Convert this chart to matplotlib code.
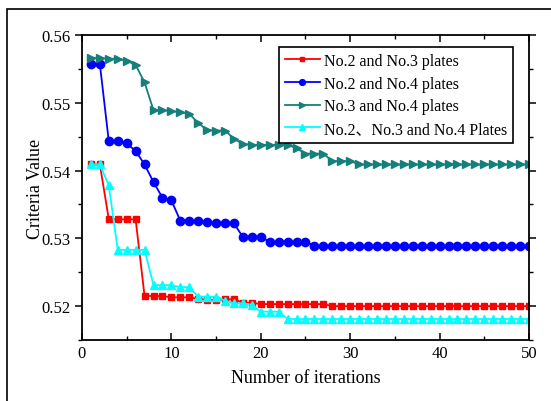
import numpy as np
import matplotlib
matplotlib.use('Agg')
import matplotlib.pyplot as plt
from matplotlib.patches import Rectangle
from matplotlib.ticker import MultipleLocator

plt.rcParams['font.family'] = ['Liberation Serif', 'Noto Sans CJK SC', 'DejaVu Sans']
plt.rcParams['mathtext.fontset'] = 'stix'

iterations = list(range(1, 51))

# No.2 and No.3 plates
red_vals = [0.5409, 0.5409, 0.5328, 0.5328, 0.5328, 0.5328, 0.5215, 0.5215, 0.5215, 0.5213,
            0.5213, 0.5213, 0.5211, 0.5209, 0.5209, 0.5210, 0.5210, 0.5205, 0.5205, 0.5203,
            0.5203, 0.5203, 0.5203, 0.5203, 0.5203, 0.5203, 0.5203] + [0.5200] * 23

# No.2 and No.4 plates
blue_vals = [0.5557, 0.5557, 0.5443, 0.5443, 0.5440, 0.5429, 0.5409, 0.5383, 0.5360, 0.5356,
             0.5326, 0.5326, 0.5325, 0.5324, 0.5322, 0.5322, 0.5322, 0.5302, 0.5302, 0.5302,
             0.5295, 0.5295, 0.5295, 0.5295, 0.5295] + [0.5289] * 25

# No.3 and No.4 plates
teal_vals = [0.5566, 0.5566, 0.5565, 0.5565, 0.5562, 0.5556, 0.5530, 0.5489, 0.5489, 0.5488,
             0.5486, 0.5484, 0.5470, 0.5460, 0.5459, 0.5459, 0.5447, 0.5439, 0.5438, 0.5438,
             0.5438, 0.5438, 0.5438, 0.5433, 0.5425, 0.5425, 0.5425, 0.5414, 0.5414, 0.5414] + [0.5409] * 20

# No.2, No.3 and No.4 plates
cyan_vals = [0.5409, 0.5409, 0.5378, 0.5283, 0.5283, 0.5283, 0.5283, 0.5231, 0.5231, 0.5231,
             0.5228, 0.5228, 0.5214, 0.5214, 0.5214, 0.5208, 0.5204, 0.5204, 0.5202, 0.5192,
             0.5192, 0.5192] + [0.5181] * 28

labels = ['No.2 and No.3 plates', 'No.2 and No.4 plates',
          'No.3 and No.4 plates', 'No.2\u3001No.3 and No.4 Plates']

fig = plt.figure(figsize=(5.51, 4.02), dpi=100)
ax = fig.add_axes([0.1488, 0.1517, 0.960 - 0.1488, 0.9104 - 0.1517])

# outer frame of the original picture (only top/left visible)
fig.patches.append(Rectangle((7 / 551, -0.1), 1.2, 1 - 9.5 / 402 + 0.1,
                             transform=fig.transFigure, fill=False,
                             edgecolor='black', linewidth=1.2))

ax.plot(iterations, red_vals, color='#ff0000', marker='s', markersize=5, lw=1.3, label=labels[0])
ax.plot(iterations, blue_vals, color='#0000ff', marker='o', markersize=6, lw=1.3, label=labels[1])
ax.plot(iterations, teal_vals, color='#157f7b', marker='>', markersize=6, lw=1.3, label=labels[2])
ax.plot(iterations, cyan_vals, color='#00ffff', marker='^', markersize=6, lw=1.3, label=labels[3])

ax.set_xlim(0, 50)
ax.set_ylim(0.515, 0.56)
ax.xaxis.set_major_locator(MultipleLocator(10))
ax.xaxis.set_minor_locator(MultipleLocator(5))
ax.yaxis.set_major_locator(MultipleLocator(0.01))
ax.yaxis.set_minor_locator(MultipleLocator(0.005))
ax.set_yticks([0.52, 0.53, 0.54, 0.55, 0.56])
ax.set_yticklabels(['0.52', '0.53', '0.54', '0.55', '0.56'])

ax.tick_params(axis='both', which='major', labelsize=12, length=5, width=1.1)
ax.tick_params(axis='both', which='minor', length=3, width=1)
ax.tick_params(axis='x', which='both', direction='in', top=True)
ax.tick_params(axis='y', which='both', direction='out', right=True)
for sp in ax.spines.values():
    sp.set_linewidth(1.3)

ax.set_xlabel('Number of iterations', fontsize=13, labelpad=6)
ax.set_ylabel('Criteria Value', fontsize=13, labelpad=-2)

leg = ax.legend(loc='upper right', bbox_to_anchor=(0.965, 0.96), fontsize=11.5,
                frameon=True, fancybox=False, edgecolor='black', framealpha=1,
                handlelength=2.2, handletextpad=0.3, labelspacing=0.42,
                borderpad=0.35, borderaxespad=0, markerscale=0.7)
leg.get_frame().set_linewidth(1.2)

fig.savefig('out.png', dpi=100)
